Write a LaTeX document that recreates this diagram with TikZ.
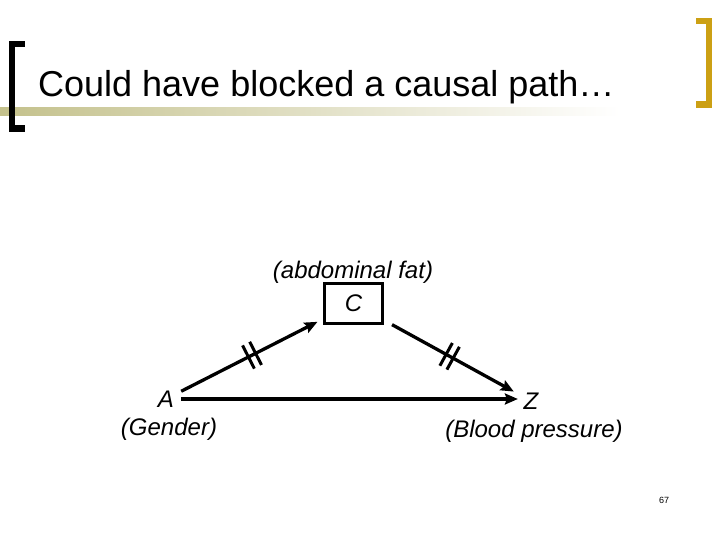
\documentclass[tikz,border=0pt]{standalone}
\usepackage{fontspec}
\setmainfont{Liberation Sans}
\usetikzlibrary{arrows.meta}
\definecolor{gold}{RGB}{204,160,20}
\definecolor{oliveband}{RGB}{196,193,140}
\tikzset{
  lbl/.style={font=\fontsize{24}{28}\selectfont\itshape, inner sep=0pt},
  conn/.style={line width=3.3pt, -{Stealth[length=13pt,width=11pt,inset=2pt]}},
  dslash/.pic={\draw[line width=3pt,-] (-4pt,-13pt)--(-4pt,13pt) (4pt,-13pt)--(4pt,13pt);},
  boxnode/.style={draw, line width=2.8pt, minimum width=58.5pt, minimum height=39.5pt, inner sep=0pt,
    font=\fontsize{24}{28}\selectfont\itshape},
}
\begin{document}
\begin{tikzpicture}[x=1pt,y=-1pt]
\useasboundingbox (0,0) rectangle (720,540);
% header decoration
\shade[left color=oliveband, right color=white] (0,108) rectangle (620,116);
\fill (9,41) rectangle (15,132);
\fill (9,41) rectangle (25,47);
\fill (9,125) rectangle (25,132);
\fill[gold] (705.5,18) rectangle (712,108);
\fill[gold] (696,18) rectangle (712,24.5);
\fill[gold] (696,101.5) rectangle (712,108);
\node[anchor=base west, font=\fontsize{36}{40}\selectfont, inner sep=0pt] (title) at (38,97) {Could have blocked a causal path…};
% nodes
\node[lbl, minimum width=30pt, minimum height=18pt] (A) at (166,399) {A};
\node[lbl] (Alab) at (169,429) {(Gender)};
\node[lbl] (Z) at (531,401) {Z};
\node[lbl] (Zlab) at (534,431) {(Blood pressure)};
\node[boxnode] (C) at (353.5,303.5) {C};
\node[lbl] (Clab) at (353,272) {(abdominal fat)};
% connectors
\draw[conn, shorten >=6pt] (A) -- (C);
\draw[conn, shorten <=9pt, shorten >=11pt] (C) -- (Z);
\draw[conn, shorten >=5.6pt] (A.east) -- (A.east -| Z.west);
% blocked-path marks
\path (A) -- pic[pos=0.5, sloped] {dslash} (C);
\path (C) -- pic[pos=0.47, sloped] {dslash} (Z);
\node[font=\fontsize{9}{10}\selectfont, inner sep=0pt] (pg) at (664,500) {67};
\end{tikzpicture}
\end{document}
